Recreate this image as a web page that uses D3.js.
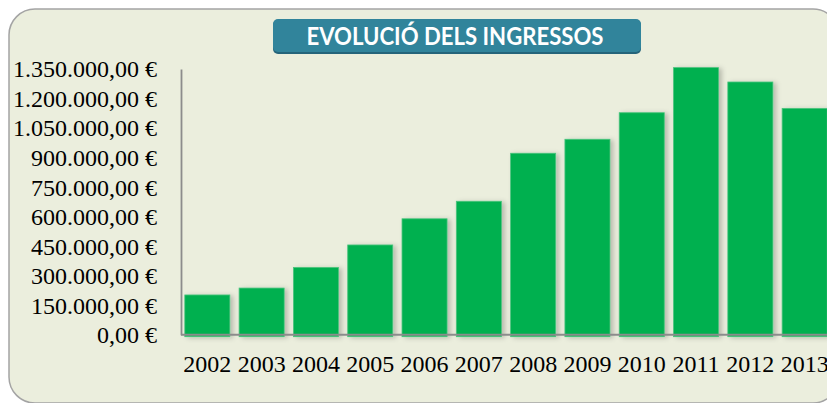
<!DOCTYPE html>
<meta charset="utf-8">
<style>
body { margin: 0; background: #fff; }
.tick text { font: 24px "Liberation Serif", "DejaVu Serif", serif; fill: #000; }
.title { font: bold 24px Lato, "Open Sans", sans-serif; fill: #fff; }
</style>
<svg width="827" height="403"></svg>
<script src="https://d3js.org/d3.v7.min.js"></script>
<script>
// dades
let years = ["2002","2003","2004","2005","2006","2007","2008","2009","2010","2011","2012","2013"];
let ingressos = [202000, 237000, 342000, 456000, 589000, 678000, 922000, 993000, 1128000, 1357000, 1284000, 1150000];
let yTicks = [0, 150000, 300000, 450000, 600000, 750000, 900000, 1050000, 1200000, 1350000];
let titol = "EVOLUCIÓ DELS INGRESSOS";

let svg = d3.select("svg");

// fons arrodonit
svg.append("rect")
    .attr("x", 9).attr("y", 9)
    .attr("width", 830).attr("height", 394)
    .attr("rx", 26)
    .attr("fill", "#ebeedd")
    .attr("stroke", "#a4a4a4")
    .attr("stroke-width", 1.5);

let defs = svg.append("defs");
let f = defs.append("filter").attr("id", "ombra")
    .attr("x", "-20%").attr("y", "-20%").attr("width", "150%").attr("height", "140%");
f.append("feDropShadow")
    .attr("dx", 3).attr("dy", 1).attr("stdDeviation", 2.5)
    .attr("flood-color", "#000").attr("flood-opacity", 0.22);

let locale = d3.formatLocale({decimal: ",", thousands: ".", grouping: [3], currency: ["", " €"]});
let fmt = locale.format("$,.2f");

let x = d3.scaleBand()
    .domain(years)
    .range([181, 831])
    .paddingInner(0.17)
    .paddingOuter(0.07);

let y = d3.scaleLinear()
    .domain([0, 1350000])
    .range([334.7, 69]);

// barres
svg.append("g")
    .selectAll("rect")
    .data(ingressos)
    .enter()
    .append("rect")
    .attr("x", (d, i) => x(years[i]))
    .attr("y", d => y(d))
    .attr("width", x.bandwidth())
    .attr("height", d => y(0) - y(d) + 2)
    .attr("fill", "#00b050")
    .attr("stroke", "#4cc47e")
    .attr("stroke-width", 0.8)
    .attr("filter", "url(#ombra)");

// eix Y
let yAxis = svg.append("g")
    .attr("transform", "translate(181,0)")
    .call(d3.axisLeft(y).tickValues(yTicks).tickFormat(fmt).tickSize(0).tickPadding(24));
yAxis.select(".domain").attr("stroke", "#8c8c8c").attr("stroke-width", 1.8);
yAxis.selectAll(".tick text").attr("dy", "0.33em");

// eix X
let xAxis = svg.append("g")
    .attr("transform", "translate(0," + y(0) + ")")
    .call(d3.axisBottom(x).tickSize(0).tickPadding(21));
xAxis.select(".domain").attr("stroke", "#8c8c8c").attr("stroke-width", 2)
    .attr("d", "M181,0H840");
xAxis.selectAll(".tick text").attr("dy", "0.66em");

// títol
svg.append("rect")
    .attr("x", 273).attr("y", 20)
    .attr("width", 368).attr("height", 34)
    .attr("rx", 5)
    .attr("fill", "#25647a");
svg.append("rect")
    .attr("x", 273).attr("y", 19)
    .attr("width", 368).attr("height", 33)
    .attr("rx", 5)
    .attr("fill", "#31849b");
svg.append("text")
    .attr("class", "title")
    .attr("x", 455).attr("y", 45)
    .attr("text-anchor", "middle")
    .attr("textLength", 297)
    .attr("lengthAdjust", "spacingAndGlyphs")
    .text(titol);
</script>
